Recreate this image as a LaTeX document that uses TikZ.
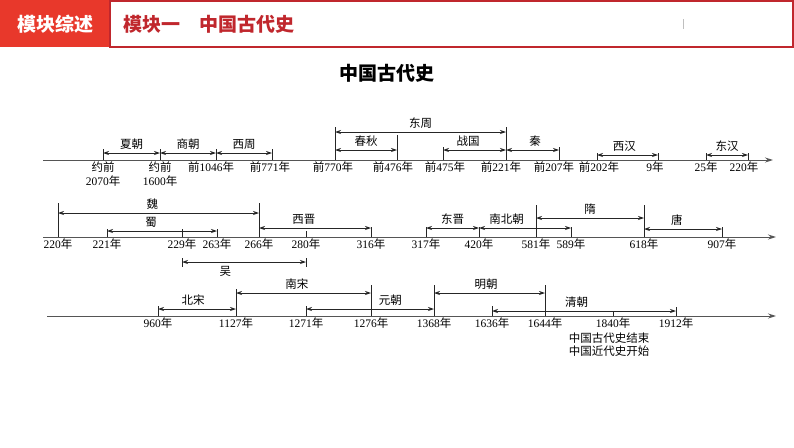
\documentclass[tikz,border=0pt]{standalone}
\usepackage{fontspec}
\setmainfont{Liberation Serif}
\newfontfamily\cjk{Noto Sans CJK SC}
\usepackage{tikz}
\usetikzlibrary{arrows.meta}
\usetikzlibrary{positioning}

\definecolor{hdred}{HTML}{E8382B}
\definecolor{hdline}{HTML}{C0272D}
\definecolor{axisgray}{HTML}{555555}

\newcommand{\qn}{{\cjk 前}}
\newcommand{\nian}{{\cjk 年}}

\tikzset{
	axis/.style={draw=axisgray,line width=1pt,-{Stealth[length=8pt,width=5pt]}},
	tick/.style={draw=black!85,line width=0.8pt},
	span/.style={draw=black!85,line width=0.8pt,{Stealth[length=6pt,width=4pt]}-{Stealth[length=6pt,width=4pt]}},
	yr/.style={font=\fontsize{11.5}{13}\selectfont,anchor=north,inner sep=0pt,yshift=-2pt,align=center},
	era/.style={font=\fontsize{11.5}{13}\selectfont\cjk,inner sep=0.5pt},
	hd/.style={font=\fontsize{19}{20}\selectfont\cjk\bfseries},
}

\begin{document}
\begin{tikzpicture}[x=1pt,y=-1pt]
	\useasboundingbox (0,0) rectangle (794,447);
	
	% header
	\fill[hdred] (0,0) rectangle (110,47);
	\draw[hdline,line width=1.2pt] (110,1) rectangle (793,47);
	\node[hd,text=white] (hdleft) at (55,24) {模块综述};
	\node[hd,text=hdline,anchor=west] (hdright) at (120,24) {模块一　中国古代史};
	\draw[gray!50,line width=0.6pt] (683,19) -- (683,29);
	\node[hd,text=black] (title) at (387,73) {中国古代史};
	
	% first row
	\coordinate (r1s) at (43,160);
	\coordinate (r1e) at (773,160);
	\draw[axis] (r1s) -- (r1e);
	\foreach \n/\x/\y in {a2070/103/149,a1600/160/149,a1046/216/149,a771/272/149,a770/335/127,a476/397/135,a475/443/147,a221/506/127,a207/559/147,a202/597/153,a9/658/153,a25/706/153,a220/748/153}
	{
		\coordinate (\n) at (\x,160);
		\draw[tick] (\n) -- (\n |- 0,\y);
	}
	\foreach \a/\b/\y/\p/\lab in {a2070/a1600/153/0.5/夏朝,a1600/a1046/153/0.5/商朝,a1046/a771/153/0.5/西周,a770/a221/132/0.5/东周,a770/a476/150/0.5/春秋,a475/a221/150/0.4/战国,a221/a207/150/0.55/秦,a202/a9/155/0.45/西汉,a25/a220/155/0.5/东汉}
	\draw[span] (\a |- 0,\y) -- node[era,above=3pt,pos=\p] {\lab} (\b |- 0,\y);
	\node[yr] (l2070) at (a2070) {{\cjk 约前}\\[1pt]2070\nian};
	\node[yr] (l1600) at (a1600) {{\cjk 约前}\\[1pt]1600\nian};
	\foreach \n/\s/\txt in {a1046/-5/{\qn 1046\nian},a771/-2/{\qn 771\nian},a770/-2/{\qn 770\nian},a476/-4/{\qn 476\nian},a475/2/{\qn 475\nian},a221/-5/{\qn 221\nian},a207/-5/{\qn 207\nian},a202/2/{\qn 202\nian},a9/-3/{9\nian},a25/0/{25\nian},a220/-4/{220\nian}}
	\node[yr,xshift=\s pt] (l\n) at (\n) {\txt};
	
	% second row
	\coordinate (r2s) at (43,237);
	\coordinate (r2e) at (776,237);
	\draw[axis] (r2s) -- (r2e);
	\foreach \n/\x/\y in {b220/58/203,b221/107/229,b229/182/229,b263/217/229,b266/259/203,b280/306/231,b316/371/227,b317/426/227,b420/479/227,b581/536/205,b589/571/227,b618/644/205,b907/722/227}
	{
		\coordinate (\n) at (\x,237);
		\draw[tick] (\n) -- (\n |- 0,\y);
	}
	\foreach \a/\b/\y/\p/\lab in {b220/b266/213/0.47/魏,b221/b263/231/0.4/蜀,b266/b316/228/0.4/西晋,b317/b420/228/0.5/东晋,b420/b589/228/0.3/南北朝,b581/b618/218/0.5/隋,b618/b907/229/0.42/唐}
	\draw[span] (\a |- 0,\y) -- node[era,above=3pt,pos=\p] {\lab} (\b |- 0,\y);
	\draw[tick] (b229 |- 0,258) -- (b229 |- 0,267);
	\draw[tick] (b280 |- 0,258) -- (b280 |- 0,267);
	\draw[span] (b229 |- 0,262) -- node[era,below=3pt,pos=0.35] {吴} (b280 |- 0,262);
	\foreach \n/\txt in {b220/220,b221/221,b229/229,b263/263,b266/266,b280/280,b316/316,b317/317,b420/420,b581/581,b589/589,b618/618,b907/907}
	\node[yr] (l\n) at (\n) {\txt\nian};
	
	% third row
	\coordinate (r3s) at (47,316);
	\coordinate (r3e) at (776,316);
	\draw[axis] (r3s) -- (r3e);
	\foreach \n/\x/\y in {c960/158/306,c1127/236/289,c1271/306/306,c1276/371/285,c1368/434/285,c1636/492/306,c1644/545/285,c1840/613/311,c1912/676/307}
	{
		\coordinate (\n) at (\x,316);
		\draw[tick] (\n) -- (\n |- 0,\y);
	}
	\foreach \a/\b/\y/\p/\lab in {c960/c1127/309/0.45/北宋,c1127/c1276/293/0.45/南宋,c1271/c1368/309/0.66/元朝,c1368/c1644/293/0.47/明朝,c1636/c1912/311/0.46/清朝}
	\draw[span] (\a |- 0,\y) -- node[era,above=3pt,pos=\p] {\lab} (\b |- 0,\y);
	\foreach \n/\txt in {c960/960,c1127/1127,c1271/1271,c1276/1276,c1368/1368,c1636/1636,c1644/1644,c1840/1840,c1912/1912}
	\node[yr] (l\n) at (\n) {\txt\nian};
	\node[era,align=left,below=3pt of lc1840,xshift=-4pt] (endnote) {中国古代史结束\\中国近代史开始};
\end{tikzpicture}
\end{document}
